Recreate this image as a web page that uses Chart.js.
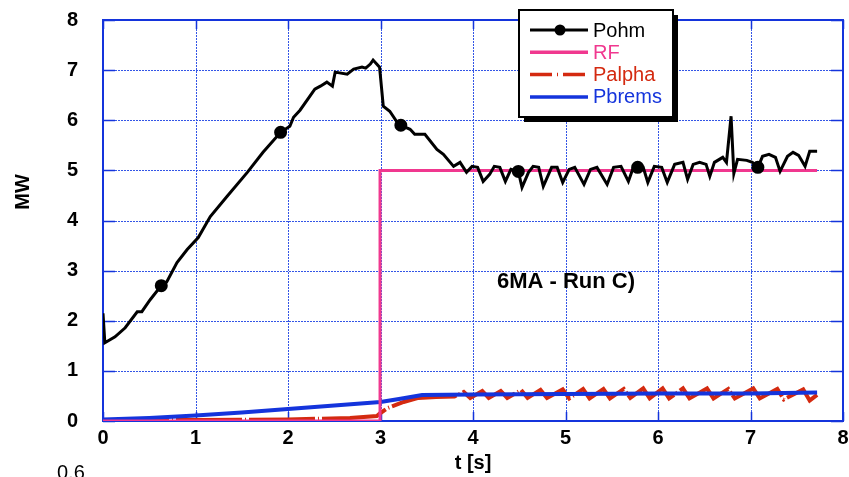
<!DOCTYPE html>
<html>
<head>
<meta charset="utf-8">
<script src="https://cdn.jsdelivr.net/npm/chart.js@4.4.1/dist/chart.umd.min.js"></script>
<style>
  html, body { margin: 0; padding: 0; background: #fff; }
  #wrap { width: 849px; height: 477px; position: relative; }
</style>
</head>
<body>
<div id="wrap"><canvas id="chart" width="849" height="477"></canvas></div>
<script>
// DATOS
var tPohm = [0, 0.02, 0.13, 0.24, 0.37, 0.42, 0.51, 0.63, 0.69, 0.8, 0.91, 1.03, 1.16, 1.34, 1.56, 1.73, 1.92, 2.02, 2.06, 2.13,
  2.29, 2.35, 2.42, 2.48, 2.51, 2.64, 2.71, 2.8, 2.84, 2.89, 2.92, 2.99, 3.03, 3.1, 3.18, 3.22, 3.32, 3.37, 3.48, 3.61, 3.68,
  3.79, 3.86, 3.93, 3.99, 4.05, 4.11, 4.18, 4.23, 4.29, 4.35, 4.41, 4.49, 4.53, 4.6, 4.65, 4.71, 4.76, 4.85, 4.91, 4.97, 5.04,
  5.1, 5.2, 5.27, 5.34, 5.45, 5.52, 5.6, 5.68, 5.73, 5.78, 5.84, 5.89, 5.96, 6.04, 6.1, 6.18, 6.27, 6.32, 6.38, 6.45, 6.52,
  6.56, 6.61, 6.7, 6.74, 6.79, 6.82, 6.86, 6.96, 7.02, 7.08, 7.13, 7.2, 7.27, 7.32, 7.4, 7.46, 7.52, 7.59, 7.64, 7.72];
var pohm = [2.15, 1.56, 1.68, 1.86, 2.18, 2.18, 2.42, 2.7, 2.78, 3.16, 3.42, 3.66, 4.08, 4.48, 4.96, 5.36, 5.76, 5.88, 6.06, 6.2,
  6.62, 6.68, 6.76, 6.68, 6.96, 6.92, 7.02, 7.06, 7.04, 7.12, 7.2, 7.06, 6.28, 6.18, 5.96, 5.9, 5.82, 5.72, 5.72, 5.42, 5.32,
  5.08, 5.16, 4.96, 5.08, 5.06, 4.78, 4.92, 5.08, 5.06, 4.78, 5.02, 4.98, 4.66, 4.96, 5.08, 5.06, 4.68, 5.06, 5.06, 4.76, 5.02,
  5.06, 4.72, 5.02, 5.06, 4.72, 5.06, 5.08, 4.78, 5.04, 5.06, 5.06, 4.76, 5.08, 5.06, 4.76, 5.12, 5.16, 4.82, 5.12, 5.16, 5.12,
  4.88, 5.16, 5.26, 5.16, 6.08, 4.94, 5.22, 5.2, 5.16, 5.06, 5.28, 5.32, 5.26, 4.98, 5.28, 5.36, 5.3, 5.08, 5.38, 5.38];
var marcasPohm = [0.63, 1.92, 3.22, 4.49, 5.78, 7.08];

var tRF = [0, 2.995, 2.995, 7.72];
var rf = [0, 0, 5, 5];

var tPalpha = [0, 1, 2, 2.67, 2.96, 3.0, 3.08, 3.25, 3.41, 3.6, 3.8, 3.9, 3.97, 4.1, 4.17, 4.3, 4.37, 4.52, 4.59, 4.73, 4.8,
  4.97, 5.04, 5.19, 5.26, 5.41, 5.48, 5.63, 5.7, 5.84, 5.91, 6.05, 6.12, 6.27, 6.34, 6.53, 6.6, 6.76, 6.83, 7.03, 7.1, 7.29,
  7.36, 7.57, 7.64, 7.72];
var palpha = [0.02, 0.02, 0.03, 0.06, 0.1, 0.16, 0.26, 0.38, 0.46, 0.48, 0.49, 0.58, 0.46, 0.6, 0.46, 0.6, 0.46, 0.62, 0.46,
  0.62, 0.46, 0.63, 0.45, 0.64, 0.45, 0.64, 0.45, 0.64, 0.46, 0.65, 0.45, 0.65, 0.45, 0.65, 0.45, 0.65, 0.45, 0.64, 0.45,
  0.65, 0.45, 0.64, 0.43, 0.63, 0.41, 0.52];

var tPbrems = [0, 0.5, 1, 1.5, 2, 2.5, 3, 3.2, 3.45, 4, 5, 6, 7, 7.72];
var pbrems = [0.03, 0.06, 0.11, 0.17, 0.24, 0.31, 0.38, 0.44, 0.52, 0.53, 0.54, 0.55, 0.55, 0.57];

var ticksX = [0, 1, 2, 3, 4, 5, 6, 7, 8];
var ticksY = [0, 1, 2, 3, 4, 5, 6, 7, 8];

var colNegro = '#000000';
var colRosa = '#f0388f';
var colRojo = '#d42a10';
var colAzul = '#1434dc';
var colRejilla = '#3355e6';
var fuente = '"Liberation Sans", Arial, Helvetica, sans-serif';

function puntos(t, v) {
  var r = [];
  for (var i = 0; i < t.length; i++) r.push({ x: t[i], y: v[i] });
  return r;
}

//REJILLA, MARCO, TICKS INTERIORES, LEYENDA Y TEXTOS
var extras = {
  id: 'extras',
  beforeDatasetsDraw: function (chart) {
    var ctx = chart.ctx, a = chart.chartArea;
    var sx = chart.scales.x, sy = chart.scales.y;
    ctx.save();
    // rejilla punteada
    ctx.strokeStyle = colRejilla;
    ctx.lineWidth = 1;
    ctx.setLineDash([2, 1]);
    ticksY.forEach(function (v) {
      var y = Math.round(sy.getPixelForValue(v)) + 0.5;
      ctx.beginPath(); ctx.moveTo(a.left, y); ctx.lineTo(a.right, y); ctx.stroke();
    });
    ticksX.forEach(function (v) {
      var x = Math.round(sx.getPixelForValue(v)) + 0.5;
      ctx.beginPath(); ctx.moveTo(x, a.top); ctx.lineTo(x, a.bottom); ctx.stroke();
    });
    ctx.setLineDash([]);
    // ticks interiores
    ctx.strokeStyle = colAzul;
    ctx.lineWidth = 1.5;
    ticksY.forEach(function (v) {
      var y = Math.round(sy.getPixelForValue(v)) + 0.5;
      ctx.beginPath();
      ctx.moveTo(a.left, y); ctx.lineTo(a.left + 12, y);
      ctx.moveTo(a.right, y); ctx.lineTo(a.right - 12, y);
      ctx.stroke();
    });
    ticksX.forEach(function (v) {
      var x = Math.round(sx.getPixelForValue(v)) + 0.5;
      ctx.beginPath();
      ctx.moveTo(x, a.bottom); ctx.lineTo(x, a.bottom - 9);
      ctx.moveTo(x, a.top); ctx.lineTo(x, a.top + 9);
      ctx.stroke();
    });
    ctx.lineWidth = 2;
    ctx.strokeRect(a.left, a.top, a.right - a.left, a.bottom - a.top);
    ctx.restore();
  },
  afterDraw: function (chart) {
    var ctx = chart.ctx;
    ctx.save();
    // titulos de ejes
    ctx.fillStyle = '#000';
    ctx.font = 'bold 20px ' + fuente;
    ctx.textAlign = 'center';
    ctx.textBaseline = 'middle';
    ctx.fillText('t [s]', 473, 463);
    ctx.save();
    ctx.translate(23, 192);
    ctx.rotate(-Math.PI / 2);
    ctx.fillText('MW', 0, 0);
    ctx.restore();
    // anotacion
    ctx.font = 'bold 22px ' + fuente;
    ctx.fillText('6MA - Run C)', 566, 282);
    // texto cortado abajo
    ctx.font = '20px ' + fuente;
    ctx.textAlign = 'left';
    ctx.textBaseline = 'alphabetic';
    ctx.fillText('0.6', 57, 479);

    // leyenda
    var bx = 519, by = 10, bw = 154, bh = 107;
    ctx.fillStyle = '#000';
    ctx.fillRect(bx + 5, by + 5, bw, bh);
    ctx.fillStyle = '#fff';
    ctx.fillRect(bx, by, bw, bh);
    ctx.strokeStyle = '#000';
    ctx.lineWidth = 2;
    ctx.strokeRect(bx, by, bw, bh);
    var items = [
      { txt: 'Pohm', col: colNegro, txtCol: '#000', dash: [], w: 3, marca: true },
      { txt: 'RF', col: colRosa, txtCol: colRosa, dash: [], w: 3.5 },
      { txt: 'Palpha', col: colRojo, txtCol: colRojo, dash: [22, 5, 1, 5], w: 3.5 },
      { txt: 'Pbrems', col: colAzul, txtCol: colAzul, dash: [], w: 3.5 }
    ];
    ctx.font = '20px ' + fuente;
    ctx.textBaseline = 'middle';
    items.forEach(function (it, i) {
      var y = 30 + i * 22.3;
      ctx.strokeStyle = it.col;
      ctx.lineWidth = it.w;
      ctx.setLineDash(it.dash);
      ctx.beginPath();
      ctx.moveTo(530, y); ctx.lineTo(588, y);
      ctx.stroke();
      ctx.setLineDash([]);
      if (it.marca) {
        ctx.fillStyle = it.col;
        ctx.beginPath();
        ctx.arc(560, y, 5.5, 0, Math.PI * 2);
        ctx.fill();
      }
      ctx.fillStyle = it.txtCol;
      ctx.fillText(it.txt, 593, y + 1);
    });
    ctx.restore();
  }
};

var ctx = document.getElementById('chart');
var miGrafica = new Chart(ctx, {
  type: 'line',
  data: {
    datasets: [
      {
        label: 'Pohm',
        data: puntos(tPohm, pohm),
        borderColor: colNegro,
        backgroundColor: colNegro,
        borderWidth: 3,
        tension: 0,
        order: 0,
        pointRadius: function (c) {
          var p = c.raw;
          return p && marcasPohm.indexOf(p.x) >= 0 ? 5 : 0;
        },
        pointHoverRadius: 0
      },
      {
        label: 'RF',
        data: puntos(tRF, rf),
        borderColor: colRosa,
        borderWidth: 3,
        tension: 0,
        order: 1,
        pointRadius: 0
      },
      {
        label: 'Pbrems',
        data: puntos(tPbrems, pbrems),
        borderColor: colAzul,
        borderWidth: 4,
        tension: 0,
        order: 2,
        pointRadius: 0
      },
      {
        label: 'Palpha',
        data: puntos(tPalpha, palpha),
        borderColor: colRojo,
        borderWidth: 4,
        borderDash: [66, 3, 1, 3],
        tension: 0,
        order: 3,
        pointRadius: 0
      }
    ]
  },
  options: {
    responsive: false,
    animation: false,
    events: [],
    layout: { padding: { top: 20, right: 6, left: 0, bottom: 0 } },
    plugins: { legend: { display: false }, tooltip: { enabled: false } },
    scales: {
      x: {
        type: 'linear', min: 0, max: 8,
        afterFit: function (s) { s.height = 56; s.paddingLeft = 0; s.paddingRight = 0; },
        afterBuildTicks: function (s) { s.ticks = ticksX.map(function (v) { return { value: v }; }); },
        grid: { display: false },
        border: { display: false },
        ticks: { color: '#000', padding: -3, font: { family: fuente, size: 20, weight: 'bold' } }
      },
      y: {
        type: 'linear', min: 0, max: 8,
        afterFit: function (s) { s.width = 103; s.paddingTop = 0; s.paddingBottom = 0; },
        afterBuildTicks: function (s) { s.ticks = ticksY.map(function (v) { return { value: v }; }); },
        grid: { display: false },
        border: { display: false },
        ticks: { color: '#000', padding: 17, font: { family: fuente, size: 20, weight: 'bold' } }
      }
    }
  },
  plugins: [extras]
});
</script>
</body>
</html>
